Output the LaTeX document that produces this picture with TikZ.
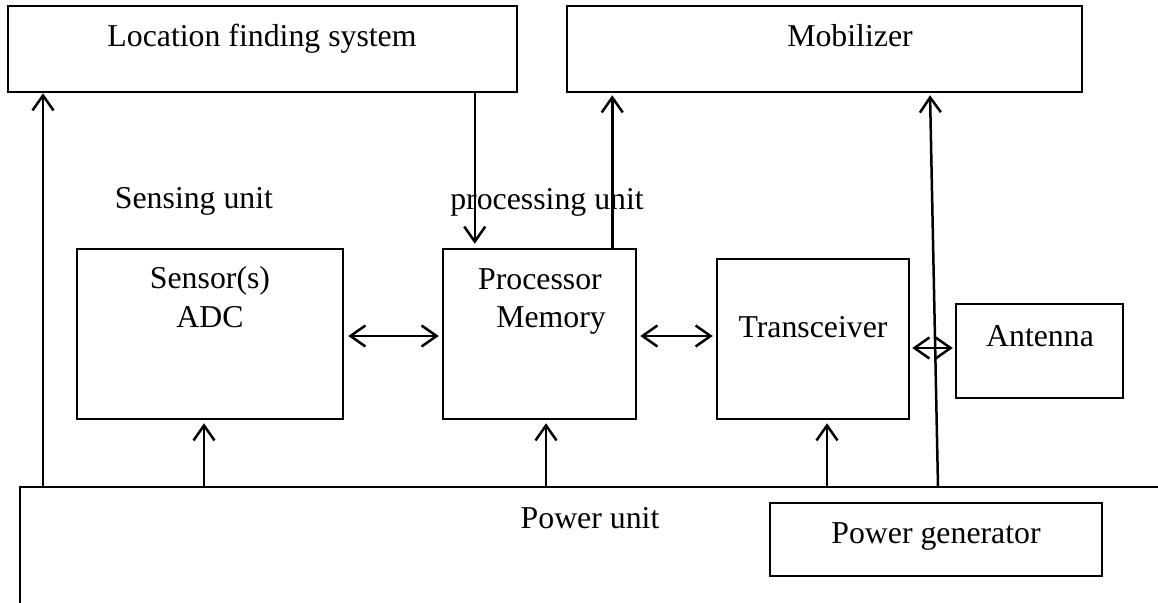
\documentclass[tikz,border=0pt]{standalone}
\usepackage{fontspec}
\setmainfont{Liberation Serif}
\usetikzlibrary{arrows.meta}

\tikzset{
  blk/.style={draw, line width=2.5pt, inner sep=0pt},
  txt/.style={inner sep=0pt, anchor=base, font=\fontsize{31.8}{38}\selectfont},
  barb/.tip={Straight Barb[length=15pt, width=21pt, line width=2.5pt]},
  arr/.style={line width=2.5pt, -barb},
  darr/.style={line width=2.5pt, barb-barb}
}

\begin{document}
\begin{tikzpicture}[x=1pt, y=-1pt]
  \useasboundingbox (0,0) rectangle (1158,602);

  % blocks
  \node[blk, minimum width=509pt, minimum height=86pt] (lfs) at (262.5,49) {};
  \node[blk, minimum width=515pt, minimum height=86pt] (mob) at (824.5,49) {};
  \node[blk, minimum width=266pt, minimum height=170pt] (sens) at (210,334) {};
  \node[blk, minimum width=193pt, minimum height=170pt] (proc) at (539.5,334) {};
  \node[blk, minimum width=192pt, minimum height=160pt] (trx) at (813,339) {};
  \node[blk, minimum width=167pt, minimum height=94pt] (ant) at (1039.5,351) {};
  \node[blk, minimum width=332pt, minimum height=73pt] (gen) at (936,539.5) {};

  % power unit (open frame)
  \coordinate (pw) at (20,487);
  \draw[line width=2.5pt] (20,610) -- (pw) -- (1170,487);

  % texts
  \node[txt] (tlfs) at (262,47) {Location finding system};
  \node[txt] (tmob) at (850,47) {Mobilizer};
  \node[txt] (tsu) at (194,208) {Sensing unit};
  \node[txt] (tpu) at (547,209) {processing unit};
  \node[txt] (tsens1) at (210,288) {Sensor(s)};
  \node[txt] (tsens2) at (210,327) {ADC};
  \node[txt] (tproc1) at (540,289) {Processor};
  \node[txt] (tproc2) at (551,327) {Memory};
  \node[txt] (ttrx) at (813,337) {Transceiver};
  \node[txt] (tant) at (1040,346) {Antenna};
  \node[txt] (tpw) at (590,528) {Power unit};
  \node[txt] (tgen) at (936,543) {Power generator};

  % feet on the power line
  \coordinate (f1) at (43,487);
  \coordinate (f2) at (204,487);
  \coordinate (f3) at (546,487);
  \coordinate (f4) at (827,487);
  \coordinate (f5) at (938,487);

  % power feeds
  \draw[arr] (f1) -- (lfs.south -| f1);
  \draw[arr, shorten >=3pt] (f2) -- (sens.south -| f2);
  \draw[arr, shorten >=3pt] (f3) -- (proc.south -| f3);
  \draw[arr, shorten >=3pt] (f4) -- (trx.south -| f4);
  \draw[arr, shorten >=2pt] (f5) -- ([xshift=105.5pt]mob.south);

  % processor links
  \coordinate (d1) at ([xshift=33pt]proc.north west);
  \coordinate (u1) at ([xshift=-25pt]proc.north east);
  \draw[arr, shorten >=4pt] (lfs.south -| d1) -- (d1);
  \draw[arr, shorten >=2pt] (u1) -- (mob.south -| u1);

  % data paths
  \draw[darr, shorten <=4pt, shorten >=3pt] (sens.east |- 0,336) -- (proc.west |- 0,336);
  \draw[darr, shorten <=3pt, shorten >=3pt] (proc.east |- 0,336) -- (trx.west |- 0,336);
  \draw[darr, shorten <=2pt, shorten >=2pt] (trx.east |- 0,348) -- (ant.west |- 0,348);
\end{tikzpicture}
\end{document}
